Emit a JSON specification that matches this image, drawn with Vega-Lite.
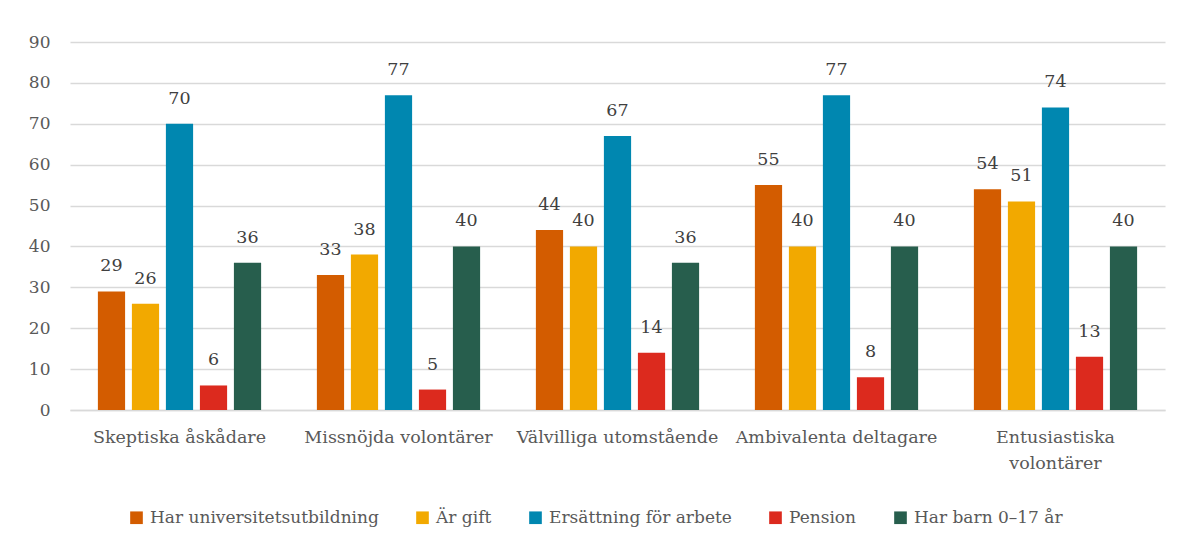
{
  "$schema": "https://vega.github.io/schema/vega-lite/v6.json",
  "autosize": {"type": "none"},
  "width": 1095,
  "height": 368,
  "padding": {"left": 70, "top": 42, "right": 22, "bottom": 135},
  "background": "white",
  "data": {
    "values": [
      {"grupp": "Skeptiska åskådare", "serie": "Har universitetsutbildning", "v": 29},
      {"grupp": "Skeptiska åskådare", "serie": "Är gift", "v": 26},
      {"grupp": "Skeptiska åskådare", "serie": "Ersättning för arbete", "v": 70},
      {"grupp": "Skeptiska åskådare", "serie": "Pension", "v": 6},
      {"grupp": "Skeptiska åskådare", "serie": "Har barn 0–17 år", "v": 36},
      {"grupp": "Missnöjda volontärer", "serie": "Har universitetsutbildning", "v": 33},
      {"grupp": "Missnöjda volontärer", "serie": "Är gift", "v": 38},
      {"grupp": "Missnöjda volontärer", "serie": "Ersättning för arbete", "v": 77},
      {"grupp": "Missnöjda volontärer", "serie": "Pension", "v": 5},
      {"grupp": "Missnöjda volontärer", "serie": "Har barn 0–17 år", "v": 40},
      {"grupp": "Välvilliga utomstående", "serie": "Har universitetsutbildning", "v": 44},
      {"grupp": "Välvilliga utomstående", "serie": "Är gift", "v": 40},
      {"grupp": "Välvilliga utomstående", "serie": "Ersättning för arbete", "v": 67},
      {"grupp": "Välvilliga utomstående", "serie": "Pension", "v": 14},
      {"grupp": "Välvilliga utomstående", "serie": "Har barn 0–17 år", "v": 36},
      {"grupp": "Ambivalenta deltagare", "serie": "Har universitetsutbildning", "v": 55},
      {"grupp": "Ambivalenta deltagare", "serie": "Är gift", "v": 40},
      {"grupp": "Ambivalenta deltagare", "serie": "Ersättning för arbete", "v": 77},
      {"grupp": "Ambivalenta deltagare", "serie": "Pension", "v": 8},
      {"grupp": "Ambivalenta deltagare", "serie": "Har barn 0–17 år", "v": 40},
      {"grupp": "Entusiastiska volontärer", "serie": "Har universitetsutbildning", "v": 54},
      {"grupp": "Entusiastiska volontärer", "serie": "Är gift", "v": 51},
      {"grupp": "Entusiastiska volontärer", "serie": "Ersättning för arbete", "v": 74},
      {"grupp": "Entusiastiska volontärer", "serie": "Pension", "v": 13},
      {"grupp": "Entusiastiska volontärer", "serie": "Har barn 0–17 år", "v": 40}
    ]
  },
  "config": {
    "font": "DejaVu Serif, serif",
    "axis": {"labelFont": "DejaVu Serif, serif"},
    "legend": {"labelFont": "DejaVu Serif, serif"},
    "text": {"font": "DejaVu Serif, serif"},
    "view": {"stroke": null}
  },
  "encoding": {
    "x": {
      "field": "grupp", "type": "nominal", "sort": null, "title": null,
      "scale": {"paddingInner": 0, "paddingOuter": 0},
      "axis": {
        "labelAngle": 0, "labelFontSize": 17.5, "labelColor": "#595959",
        "labelPadding": 18, "ticks": false, "domainColor": "#d9d9d9", "domainWidth": 1.5,
        "labelExpr": "datum.label == 'Entusiastiska volontärer' ? ['Entusiastiska', 'volontärer'] : datum.label",
        "labelLineHeight": 26, "labelLimit": 0
      }
    },
    "xOffset": {
      "field": "serie", "type": "nominal", "sort": null,
      "scale": {"paddingInner": 0.2, "paddingOuter": 0.82}
    },
    "y": {
      "field": "v", "type": "quantitative", "title": null,
      "scale": {"domain": [0, 90]},
      "axis": {
        "values": [0, 10, 20, 30, 40, 50, 60, 70, 80, 90],
        "labelFontSize": 17, "labelColor": "#595959", "labelPadding": 20,
        "ticks": false, "domain": false, "gridColor": "#d9d9d9", "gridWidth": 1.5
      }
    }
  },
  "layer": [
    {
      "mark": {"type": "bar"},
      "encoding": {
        "color": {
          "field": "serie", "type": "nominal", "sort": null, "title": null,
          "scale": {
            "domain": ["Har universitetsutbildning", "Är gift", "Ersättning för arbete", "Pension", "Har barn 0–17 år"],
            "range": ["#D35C00", "#F2A900", "#0087B0", "#DC2A1E", "#275E4D"]
          },
          "legend": {
            "orient": "none", "legendX": 58, "legendY": 467, "direction": "horizontal",
            "symbolType": "square", "symbolSize": 160, "symbolStrokeWidth": 0,
            "labelFontSize": 17, "labelColor": "#595959", "columnPadding": 35,
            "labelOffset": 5, "labelLimit": 0
          }
        }
      }
    },
    {
      "mark": {"type": "text", "baseline": "bottom", "dy": -16, "fontSize": 17.5, "color": "#404040"},
      "encoding": {"text": {"field": "v", "type": "quantitative"}}
    }
  ]
}
